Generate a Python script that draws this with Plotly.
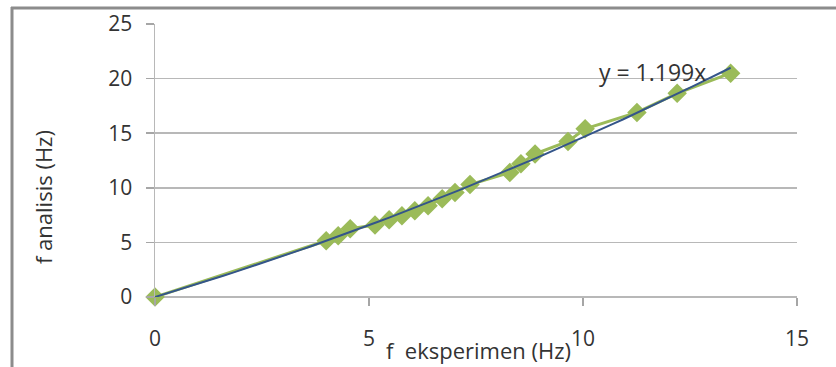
import numpy as np
import plotly.graph_objects as go

# Data
f_eksperimen = [0, 4.0, 4.28, 4.56, 5.14, 5.47, 5.77, 6.07, 6.38, 6.71, 7.01, 7.36,
                8.29, 8.55, 8.88, 9.65, 10.05, 11.26, 12.2, 13.45]
f_analisis = [0, 5.15, 5.6, 6.25, 6.6, 7.08, 7.44, 7.9, 8.36, 9.0, 9.56, 10.3,
              11.4, 12.2, 13.1, 14.25, 15.4, 16.9, 18.65, 20.5]
x_ticks = [0, 5, 10, 15]
y_ticks = [0, 5, 10, 15, 20, 25]
trend_label = "y = 1.199x"

# Trend curve fitted to the data (through origin)
x = np.array(f_eksperimen)
y = np.array(f_analisis)
A = np.vstack([x, x ** 2]).T
coef, *_ = np.linalg.lstsq(A, y, rcond=None)
trend_x = np.linspace(0, x.max(), 60)
trend_y = coef[0] * trend_x + coef[1] * trend_x ** 2

W, H = 836, 367
L, R, T, B = 155, 797, 24, 297  # plot area pixels

FONT = "Open Sans, Noto Sans, sans-serif"


def px(xp):
    return (xp - L) / (R - L)


def py(yp):
    return (B - yp) / (B - T)


fig = go.Figure()
fig.add_trace(go.Scatter(
    x=f_eksperimen, y=f_analisis, mode="lines+markers", cliponaxis=False,
    line=dict(color="#9BBB59", width=3),
    marker=dict(symbol="diamond", size=15, color="#9BBB59"),
    showlegend=False, hoverinfo="skip"))
fig.add_trace(go.Scatter(
    x=trend_x, y=trend_y, mode="lines", cliponaxis=False,
    line=dict(color="#34558A", width=2),
    showlegend=False, hoverinfo="skip"))

tick_font = dict(family=FONT, size=21, color="#333333")

fig.update_layout(
    width=W, height=H,
    margin=dict(l=L, r=W - R, t=T, b=H - B, autoexpand=False),
    paper_bgcolor="white", plot_bgcolor="white",
    xaxis=dict(range=[0, 15], tickvals=x_ticks, ticktext=[str(v) for v in x_ticks],
               showgrid=False, zeroline=False, showline=False, automargin=False,
               ticks="outside", ticklen=8, tickcolor="#A6A6A6", tickwidth=1.5,
               tickfont=tick_font, ticklabelstandoff=15, fixedrange=True),
    yaxis=dict(range=[0, 25], tickvals=y_ticks, ticktext=[str(v) for v in y_ticks],
               showgrid=True, gridcolor="#B8B8B8", gridwidth=1.5,
               zeroline=True, zerolinecolor="#B8B8B8", zerolinewidth=1.5,
               showline=True, linecolor="#B8B8B8", linewidth=1.5, automargin=False,
               ticks="outside", ticklen=8, tickcolor="#A6A6A6", tickwidth=1.5,
               tickfont=tick_font, ticklabelstandoff=9, fixedrange=True),
    annotations=[
        dict(text="f analisis (Hz)", xref="paper", yref="paper",
             x=px(43), y=py(197), textangle=-90, xanchor="center", yanchor="middle",
             showarrow=False, font=dict(family=FONT, size=22, color="#333333")),
        dict(text="f  eksperimen (Hz)", xref="paper", yref="paper",
             x=px(478), y=py(350), xanchor="center", yanchor="middle",
             showarrow=False, font=dict(family=FONT, size=22, color="#333333")),
        dict(text=trend_label, xref="paper", yref="paper",
             x=px(652), y=py(72), xanchor="center", yanchor="middle",
             showarrow=False, font=dict(family=FONT, size=23, color="#333333")),
    ],
    shapes=[
        dict(type="line", xref="paper", yref="paper",
             x0=px(11), x1=px(W + 5), y0=py(8), y1=py(8),
             line=dict(color="#8C8C8C", width=3)),
        dict(type="line", xref="paper", yref="paper",
             x0=px(12), x1=px(12), y0=py(7), y1=py(H + 5),
             line=dict(color="#8C8C8C", width=3)),
    ],
)

fig.write_html("out.html", config={"displayModeBar": False, "staticPlot": True},
               post_script="document.body.style.margin='0';")
